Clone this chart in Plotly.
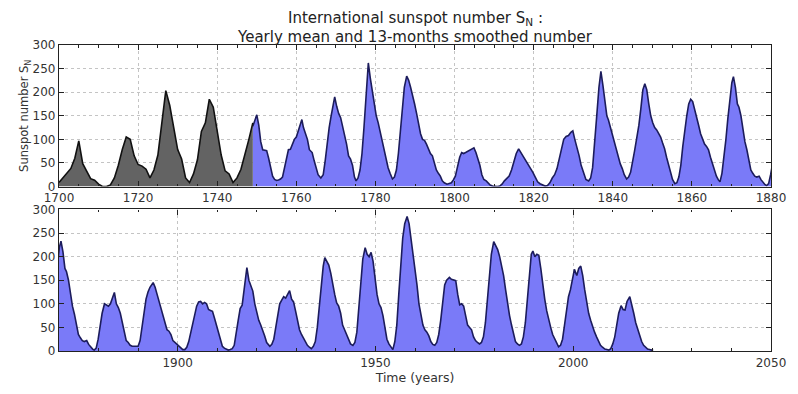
import plotly.graph_objects as go
from plotly.subplots import make_subplots

# Yearly mean sunspot number (grey, 1700-1749)
grey_years = list(range(1700, 1750))
grey_values = [8.3, 18.3, 26.7, 38.3, 60.0, 96.7, 48.3, 33.3, 16.7, 13.3,
               5.0, 0.0, 0.0, 3.3, 18.3, 45.0, 78.3, 105.0, 100.0, 65.0,
               46.7, 43.3, 36.7, 18.3, 35.0, 66.7, 130.0, 203.3, 171.7, 121.7,
               78.3, 58.3, 18.3, 8.3, 26.7, 56.7, 116.7, 135.0, 185.0, 168.3,
               121.7, 66.7, 33.3, 26.7, 8.3, 18.3, 36.7, 66.7, 100.0, 134.8]

# 13-month smoothed number (blue, 1749-2020)
smooth_t = [
 1749.0,1749.5,1750.0,1750.5,1751.0,1751.5,1752.0,1752.5,1753.0,1753.5,1754.0,1754.5,1755.0,1755.5,1756.0,1756.5,
 1757.0,1757.5,1758.0,1758.5,1759.0,1759.5,1760.0,1760.5,1761.0,1761.4,1761.8,1762.3,1762.8,1763.3,1764.0,1764.5,
 1765.0,1765.5,1766.2,1766.8,1767.3,1767.8,1768.3,1768.8,1769.3,1769.7,1770.2,1770.7,1771.2,1771.7,1772.2,1772.7,
 1773.2,1773.7,1774.2,1774.7,1775.1,1775.6,1776.1,1776.6,1777.1,1777.6,1778.2,1778.7,1779.2,1779.7,1780.2,1780.7,
 1781.2,1781.7,1782.2,1782.7,1783.2,1783.7,1784.3,1784.8,1785.3,1785.8,1786.3,1786.8,1787.3,1787.9,1788.4,1788.9,
 1789.4,1789.9,1790.4,1790.9,1791.4,1791.9,1792.4,1792.9,1793.4,1793.9,1794.4,1794.9,1795.4,1795.9,1796.4,1796.9,
 1797.4,1798.1,1798.6,1799.2,1799.7,1800.2,1800.7,1801.3,1801.8,1802.3,1802.8,1803.3,1803.8,1804.4,1804.9,1805.4,
 1805.9,1806.4,1806.9,1807.4,1808.0,1808.5,1809.0,1809.6,1810.2,1810.8,1811.4,1812.0,1812.6,1813.2,1813.8,1814.4,
 1815.0,1815.6,1816.2,1816.8,1817.4,1818.0,1818.6,1819.2,1819.8,1820.4,1821.0,1821.6,1822.3,1822.9,1823.5,1824.1,
 1824.7,1825.3,1825.9,1826.5,1827.1,1827.6,1828.2,1828.8,1829.4,1829.9,1830.4,1830.9,1831.5,1832.0,1832.6,1833.2,
 1833.9,1834.4,1834.9,1835.4,1835.9,1836.5,1837.0,1837.5,1838.0,1838.5,1838.9,1839.4,1839.9,1840.4,1840.9,1841.4,
 1841.9,1842.4,1842.9,1843.5,1844.0,1844.5,1845.0,1845.5,1846.0,1846.6,1847.1,1847.6,1848.1,1848.6,1849.1,1849.6,
 1850.1,1850.6,1851.1,1851.6,1852.1,1852.6,1853.1,1853.6,1854.1,1854.6,1855.1,1855.7,1856.2,1856.7,1857.2,1857.7,
 1858.2,1858.7,1859.2,1859.7,1860.2,1860.7,1861.2,1861.7,1862.2,1862.7,1863.2,1863.7,1864.2,1864.7,1865.2,1865.7,
 1866.2,1866.7,1867.1,1867.6,1868.1,1868.6,1869.1,1869.6,1870.1,1870.5,1871.0,1871.5,1871.9,1872.4,1872.9,1873.4,
 1873.9,1874.4,1874.9,1875.4,1875.9,1876.4,1877.0,1877.5,1878.0,1878.5,1878.9,1879.4,1879.9,1880.4,1880.9,1881.5,
 1882.0,1882.5,1883.0,1883.5,1884.0,1884.5,1885.0,1885.5,1886.0,1886.5,1887.0,1887.5,1888.0,1888.5,1889.0,1889.5,
 1890.0,1890.5,1891.0,1891.5,1892.0,1892.5,1893.0,1893.8,1894.3,1894.8,1895.3,1895.8,1896.3,1896.8,1897.3,1897.8,
 1898.3,1898.8,1899.3,1899.8,1900.3,1900.8,1901.3,1901.8,1902.3,1902.8,1903.3,1903.8,1904.3,1904.8,1905.3,1905.8,
 1906.3,1906.8,1907.3,1907.8,1908.3,1908.8,1909.3,1909.8,1910.3,1910.8,1911.3,1911.8,1912.3,1912.8,1913.3,1913.8,
 1914.3,1914.8,1915.3,1915.8,1916.3,1916.8,1917.5,1918.0,1918.5,1919.0,1919.5,1920.0,1920.5,1921.0,1921.5,1922.0,
 1922.5,1923.3,1923.8,1924.3,1924.8,1925.3,1925.8,1926.3,1926.8,1927.3,1927.8,1928.3,1928.8,1929.3,1929.8,1930.3,
 1930.8,1931.3,1931.8,1932.3,1932.8,1933.3,1933.8,1934.3,1934.8,1935.3,1935.8,1936.3,1936.8,1937.2,1937.7,1938.2,
 1938.7,1939.2,1939.7,1940.2,1940.7,1941.2,1941.7,1942.2,1942.7,1943.2,1943.7,1944.3,1944.8,1945.3,1945.8,1946.3,
 1946.8,1947.4,1947.9,1948.4,1948.9,1949.4,1949.9,1950.4,1950.9,1951.4,1951.9,1952.4,1952.9,1953.4,1953.9,1954.4,
 1954.9,1955.4,1955.9,1956.4,1956.9,1957.4,1958.0,1958.5,1959.0,1959.5,1960.0,1960.5,1961.0,1961.5,1962.0,1962.5,
 1963.0,1963.5,1964.0,1964.5,1965.0,1965.5,1966.0,1966.5,1967.0,1967.5,1968.0,1968.7,1969.2,1969.7,1970.3,1970.8,
 1971.3,1971.8,1972.3,1972.8,1973.3,1973.8,1974.3,1974.8,1975.3,1975.8,1976.3,1976.8,1977.3,1977.8,1978.3,1978.8,
 1979.3,1979.9,1980.4,1980.9,1981.4,1981.9,1982.4,1982.9,1983.4,1983.9,1984.4,1984.9,1985.4,1985.9,1986.4,1986.9,
 1987.4,1987.9,1988.4,1988.9,1989.4,1989.8,1990.3,1990.8,1991.3,1991.8,1992.3,1992.8,1993.3,1993.8,1994.3,1994.8,
 1995.3,1995.8,1996.3,1996.8,1997.3,1997.8,1998.3,1998.8,1999.3,1999.8,2000.3,2000.9,2001.4,2001.9,2002.4,2002.9,
 2003.4,2003.9,2004.4,2004.9,2005.4,2005.9,2006.4,2006.9,2007.4,2008.0,2008.5,2009.0,2009.5,2010.0,2010.5,2011.0,
 2011.5,2012.1,2012.6,2013.1,2013.6,2014.3,2014.8,2015.3,2015.8,2016.3,2016.8,2017.3,2017.8,2018.3,2018.8,2019.3,
 2019.8,2020.2]
smooth_v = [
 128,140,152,130,95,78,77,76,60,42,22,15,13,14,16,20,
 40,65,78,79,88,100,105,118,135,142,125,110,100,78,72,55,
 38,25,18,25,55,95,125,150,175,190,170,155,146,128,110,90,
 65,58,45,20,12,18,35,70,125,195,262,230,200,175,150,135,
 115,100,80,60,40,28,16,20,35,70,120,170,210,234,225,210,
 195,175,155,130,112,100,98,90,80,70,65,48,35,28,22,12,
 8,5,7,8,14,22,40,62,72,70,72,74,76,80,82,72,
 58,45,25,15,12,8,3,1,0,0,1,5,12,18,22,35,
 55,70,80,72,62,55,48,38,30,20,10,6,3,1,2,8,
 18,25,38,60,80,100,106,108,115,118,100,85,65,45,30,15,
 12,18,40,85,145,210,244,215,175,150,141,125,110,95,78,62,
 48,38,25,16,20,30,50,75,100,130,165,205,218,205,175,150,
 135,125,120,112,105,92,80,62,45,30,15,6,8,20,45,85,
 120,150,175,185,180,165,150,130,112,100,90,85,78,62,48,35,
 22,14,10,28,60,100,145,190,220,233,210,175,168,150,120,95,
 78,55,35,28,22,20,22,14,8,4,2,6,25,50,80,100,
 98,95,100,110,124,100,92,80,60,40,22,18,12,10,10,9,
 10,22,50,85,110,125,135,145,135,120,105,90,70,55,45,42,
 35,22,18,14,10,5,3,3,8,20,40,60,80,95,104,105,
 100,103,100,88,86,84,70,55,35,20,10,6,4,2,3,5,
 12,35,65,90,97,130,177,150,138,127,100,80,65,55,45,32,
 18,10,14,25,50,75,100,108,115,112,120,128,110,104,85,65,
 45,35,28,18,12,8,5,10,20,50,95,140,180,198,188,182,
 165,140,120,102,95,80,55,45,35,25,15,12,18,40,90,150,
 195,219,205,200,209,190,150,120,100,92,75,45,25,15,8,3,
 20,55,120,190,240,270,285,270,240,210,175,140,100,75,55,45,
 40,32,20,14,12,18,35,65,105,140,150,156,152,150,149,120,
 98,100,95,75,55,50,45,30,22,18,15,18,30,60,110,165,
 205,232,225,215,200,180,160,130,100,75,55,35,20,15,12,15,
 30,60,110,165,205,212,200,205,203,175,140,110,85,65,50,35,
 25,15,9,12,25,55,90,115,130,155,173,160,175,180,160,130,
 105,80,65,50,40,30,20,12,8,4,3,2,5,15,30,55,
 80,96,88,87,105,115,100,80,60,45,30,20,12,7,4,3,
 2,3]

y_ticks = [0, 50, 100, 150, 200, 250, 300]
top_x_ticks = [1700, 1720, 1740, 1760, 1780, 1800, 1820, 1840, 1860, 1880]
bottom_x_ticks = [1900, 1950, 2000, 2050]

title_line1 = "International sunspot number S<sub>N</sub> :"
title_line2 = "Yearly mean and 13-months smoothed number"

BLUE_FILL = "rgba(122,122,248,1)"
BLUE_LINE = "#1c1c5c"
GREY_FILL = "#636363"
GREY_LINE = "#111111"

fig = make_subplots(rows=2, cols=1, vertical_spacing=0.075)

for row in (1, 2):
    fig.add_trace(go.Scatter(x=smooth_t, y=smooth_v, mode="lines", fill="tozeroy",
                             fillcolor=BLUE_FILL, line=dict(color=BLUE_LINE, width=1.6),
                             showlegend=False, hoverinfo="skip"), row=row, col=1)
fig.add_trace(go.Scatter(x=grey_years, y=grey_values, mode="lines", fill="tozeroy",
                         fillcolor=GREY_FILL, line=dict(color=GREY_LINE, width=1.6),
                         showlegend=False, hoverinfo="skip"), row=1, col=1)

font_family = "DejaVu Sans, sans-serif"
tick_font = dict(family=font_family, size=12, color="#333333")

common_axis = dict(showline=True, linecolor="#222222", linewidth=1.2, mirror="ticks",
                   ticks="inside", ticklen=5, tickcolor="#222222",
                   showgrid=True, gridcolor="#c4c4c4", griddash="dot", gridwidth=1,
                   zeroline=False, tickfont=tick_font)

fig.update_xaxes(range=[1700, 1880], tickvals=top_x_ticks, ticklabelstandoff=0,
                 minor=dict(dtick=5, tick0=1700, ticks="inside", ticklen=2.5, tickcolor="#222222", showgrid=False),
                 row=1, col=1, **common_axis)
fig.update_xaxes(range=[1870, 2050], tickvals=bottom_x_ticks,
                 minor=dict(dtick=10, tick0=1870, ticks="inside", ticklen=2.5, tickcolor="#222222", showgrid=False),
                 title=dict(text="Time (years)", font=dict(family=font_family, size=12.5, color="#333333"), standoff=4),
                 row=2, col=1, **common_axis)
fig.update_yaxes(range=[0, 300], tickvals=y_ticks,
                 title=dict(text="Sunspot number S<sub>N</sub>", font=dict(family=font_family, size=11.5, color="#333333"), standoff=0),
                 row=1, col=1, **common_axis)
fig.update_yaxes(range=[0, 300], tickvals=y_ticks, row=2, col=1, **common_axis)

fig.update_layout(
    width=798, height=394,
    margin=dict(l=59, r=25, t=45, b=42),
    paper_bgcolor="white", plot_bgcolor="white",
    annotations=[
        dict(text=title_line1, xref="paper", yref="paper", x=0.5, y=1.0, yshift=27,
             xanchor="center", yanchor="middle", showarrow=False,
             font=dict(family=font_family, size=15, color="#222222")),
        dict(text=title_line2, xref="paper", yref="paper", x=0.5, y=1.0, yshift=8,
             xanchor="center", yanchor="middle", showarrow=False,
             font=dict(family=font_family, size=15, color="#222222")),
    ],
)
fig.layout.yaxis.domain = [0.5375, 1.0]
fig.layout.yaxis2.domain = [0.0, 0.4625]

fig.write_html("out.html", config={"displayModeBar": False},
               post_script="document.body.style.margin='0';")
